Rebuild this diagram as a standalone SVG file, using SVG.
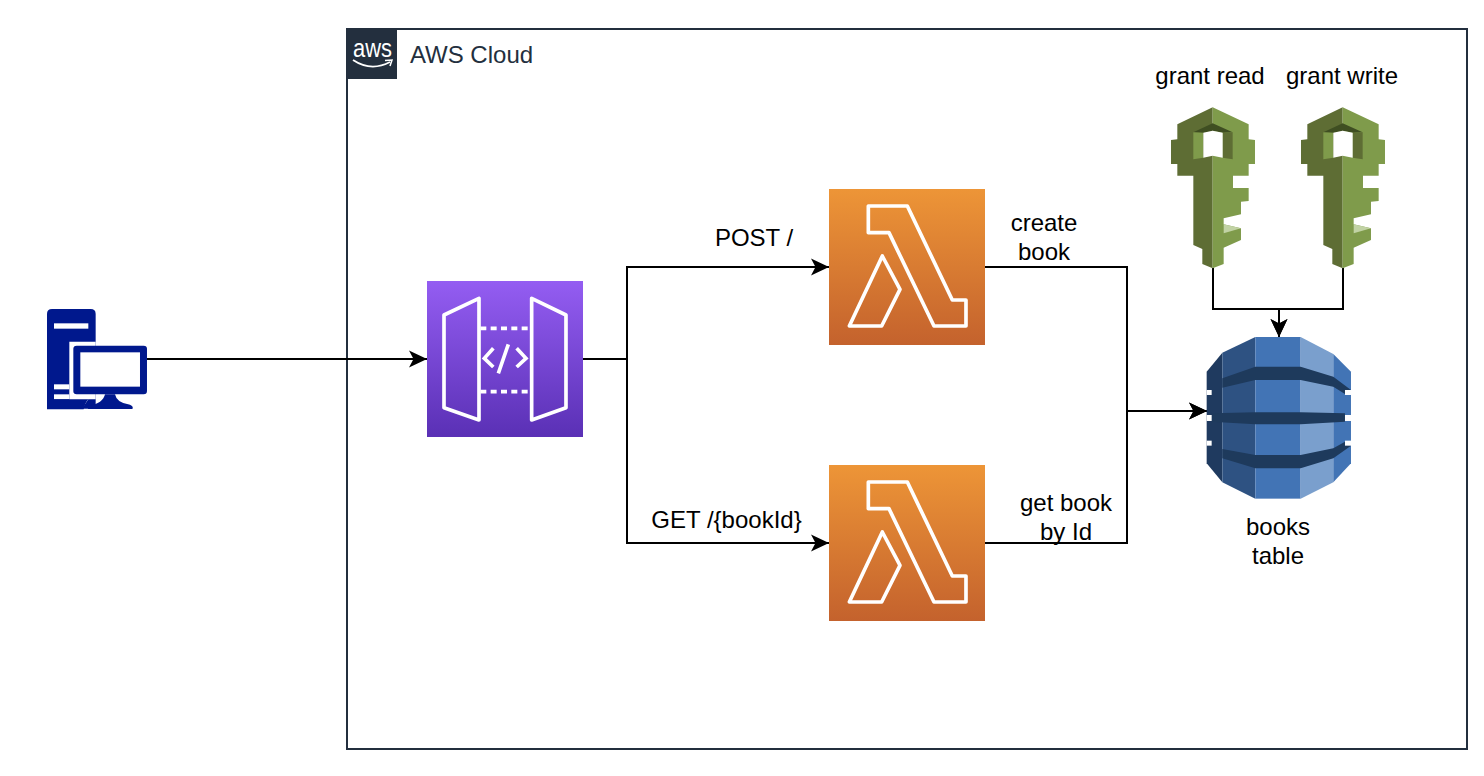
<svg xmlns="http://www.w3.org/2000/svg" width="1484" height="776" viewBox="0 0 1484 776">
<style>
text{font-family:"Liberation Sans",Arial,sans-serif;font-size:24px;fill:#000;text-anchor:middle}
.conn{fill:none;stroke:#000;stroke-width:2}
.ico{fill:none;stroke:#fff;stroke-width:11;stroke-linejoin:round}
.kd{fill:#5e6d34}.kl{fill:#7f9b4b}
</style>
<defs>
<linearGradient id="gp" x1="0" y1="0" x2="0" y2="1"><stop offset="0" stop-color="#945DF2"/><stop offset="1" stop-color="#5A30B5"/></linearGradient>
<linearGradient id="go" x1="0" y1="0" x2="0" y2="1"><stop offset="0" stop-color="#ED9537"/><stop offset="1" stop-color="#C4622D"/></linearGradient>
<marker id="arr" markerUnits="userSpaceOnUse" markerWidth="20" markerHeight="20" refX="18" refY="9" orient="auto"><path d="M0 0.500 L18 9 L0 17.500 L4.500 9Z" fill="#000"/></marker>
<g id="lambda-icon"><path class="ico" d="M145 78H262L397 360H438V438H342L207 158H145Z"/><path class="ico" d="M187 228L240 328L185 438H88Z"/></g>
<g id="key-icon">
<path class="kd" d="M188 52L82 103V148L63 150V222H82V257H130V465L157 477V522L188 535Z"/>
<path class="kl" d="M188 52L296 103V148L315 150V222H296V257H249V294H296V333L273 335V373L221 385V403L273 415V450L221 473V522L188 535Z"/>
<path d="M221 403L273 415L221 430Z" fill="#c1d2a4"/>
<path d="M130 127L188 100L248 127L218 128L188 122L160 128Z" fill="#3f4e22"/>
<path class="kl" d="M130 127L160 128V203L130 208Z"/>
<path class="kd" d="M218 128L248 127V208L218 203Z"/>
<path d="M160 128L188 122L218 128V203L188 197L160 203Z" fill="#fff"/>
</g>
</defs>

<g id="aws-cloud">
<rect x="347" y="29" width="1120" height="720" fill="none" stroke="#232F3E" stroke-width="2"/>
<rect x="347" y="29" width="50" height="50" fill="#232F3E"/>
<text x="372.500" y="57" textLength="39" lengthAdjust="spacingAndGlyphs" style="font-size:25px;fill:#fff">aws</text>
<path d="M353 60Q371 72 390 62" fill="none" stroke="#fff" stroke-width="1.800"/>
<path d="M385 60.500L392 60L390 66" fill="none" stroke="#fff" stroke-width="1.500"/>
<text x="471.500" y="63" style="fill:#232F3E">AWS Cloud</text>
</g>

<g id="connectors">
<path class="conn" marker-end="url(#arr)" d="M147 359H427"/>
<path class="conn" marker-end="url(#arr)" d="M583 359H627V267H829"/>
<path class="conn" marker-end="url(#arr)" d="M583 359H627V543H829"/>
<path class="conn" marker-end="url(#arr)" d="M985 267H1127V411H1207"/>
<path class="conn" marker-end="url(#arr)" d="M985 543H1127V411H1207"/>
<path class="conn" marker-end="url(#arr)" d="M1213 268V309H1279V337"/>
<path class="conn" marker-end="url(#arr)" d="M1343 268V309H1279V337"/>
</g>

<g id="client" transform="translate(35 300) scale(.3333)">
<path d="M36 42Q36 27 51 27H167Q182 27 182 42V326H36Z" fill="#00188D"/>
<rect x="57" y="70" width="103" height="16" fill="#fff"/>
<path d="M103 125H182V298H160L140 328H103Z" fill="#fff"/>
<rect x="57" y="253" width="46" height="15" fill="#fff"/>
<rect x="57" y="283" width="46" height="15" fill="#fff"/>
<path d="M36 298H160Q150 308 146 328H36Z" fill="#00188D"/>
<path d="M160 318Q205 310 210 283H240Q245 310 285 314Q297 320 292 327H160Q155 322 160 318Z" fill="#00188D"/>
<rect x="115" y="137" width="221" height="146" rx="10" fill="#00188D"/>
<rect x="136" y="157" width="179" height="103" fill="#fff"/>
</g>

<g id="api-gateway">
<rect x="427" y="281" width="156" height="156" fill="url(#gp)"/>
<g transform="translate(420 275) scale(.3333)">
<path class="ico" d="M72 120L177 70V435L72 398Z"/>
<path class="ico" d="M335 70L438 120V398L335 435Z"/>
<path class="ico" stroke-dasharray="18 13" d="M181 160H330M181 350H330"/>
<path class="ico" d="M220 220L193 250L220 276M290 220L318 250L290 276M265 208L235 295" style="stroke-linejoin:miter"/>
</g>
</g>

<g id="lambda-create">
<rect x="829" y="189" width="156" height="156" fill="url(#go)"/>
<use href="#lambda-icon" transform="translate(820 180) scale(.3333)"/>
</g>
<g id="lambda-get">
<rect x="829" y="465" width="156" height="156" fill="url(#go)"/>
<use href="#lambda-icon" transform="translate(820 456) scale(.3333)"/>
</g>

<g id="key-read">
<use href="#key-icon" transform="translate(1150 90) scale(.3333)"/>
<text x="1210" y="84">grant read</text>
</g>
<g id="key-write">
<use href="#key-icon" transform="translate(1280 90) scale(.3333)"/>
<text x="1342" y="84">grant write</text>
</g>

<g id="books-table">
<g transform="translate(1190 325) scale(.3333)">
<path d="M97 83L50 140V415L97 472Z" fill="#1F3A5F"/>
<path d="M97 83L196 36V521L97 472Z" fill="#2E5282"/>
<rect x="196" y="36" width="136" height="485" fill="#4274B5"/>
<path d="M332 36L430 87V472L332 521Z" fill="#7A9FCD"/>
<path d="M430 87L483 140V415L430 472Z" fill="#4274B5"/>
<g fill="#1E3A5C">
<path d="M97 160L196 125H332L430 155L483 195L465 207L430 185L332 165H196L97 188Z"/>
<path d="M65 265L196 262H332L465 265V290L332 298H196L65 290Z"/>
<path d="M97 372L196 390H332L430 370L465 350L483 362L430 400L332 430H196L97 400Z"/>
</g>
<g fill="#fff">
<rect x="50" y="195" width="15" height="15"/><rect x="50" y="270" width="15" height="18"/><rect x="50" y="347" width="15" height="15"/>
<rect x="465" y="195" width="18" height="15"/><rect x="465" y="270" width="18" height="18"/><rect x="465" y="347" width="18" height="15"/>
</g>
</g>
<text x="1278" y="535">books</text>
<text x="1278" y="564">table</text>
</g>

<g id="labels">
<text x="754" y="246">POST /</text>
<text x="726.500" y="528">GET /{bookId}</text>
<text x="1044" y="231">create</text>
<text x="1044" y="260">book</text>
<text x="1066" y="511">get book</text>
<text x="1066" y="540">by Id</text>
</g>
</svg>
